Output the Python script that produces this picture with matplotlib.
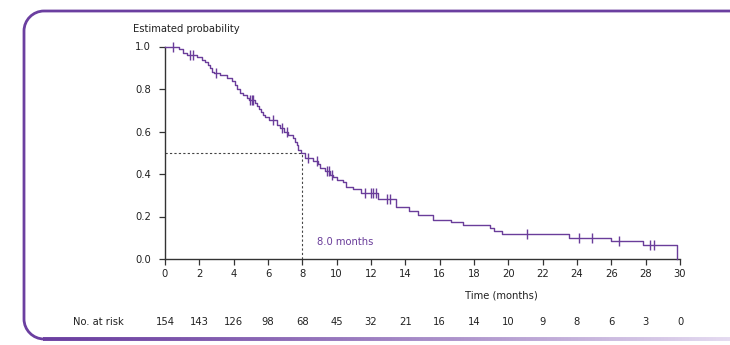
import matplotlib
matplotlib.use('Agg')
import matplotlib.pyplot as plt
import numpy as np
from matplotlib.path import Path
from matplotlib.patches import PathPatch
from matplotlib.collections import LineCollection
from matplotlib import font_manager

# ---------------- data ----------------
event_times = [0.0, 0.82, 1.07, 1.3, 1.85, 2.14, 2.33, 2.49, 2.62, 2.72, 2.85, 3.2, 3.59, 3.88,
               4.08, 4.17, 4.37, 4.56, 4.76, 4.9, 5.24, 5.34, 5.45, 5.6, 5.73, 5.82, 6.05,
               6.5, 6.7, 6.95, 7.18, 7.47, 7.6, 7.67, 7.76, 7.9, 8.15, 8.64, 8.9, 9.03, 9.32,
               9.6, 9.8, 10.0, 10.38, 10.54, 10.97, 11.4, 12.42, 13.45, 14.23, 14.75, 15.6,
               16.64, 17.34, 18.93, 19.16, 19.61, 23.55, 25.98, 27.86, 29.84]
survival = [1.0, 0.99, 0.97, 0.958, 0.949, 0.936, 0.925, 0.913, 0.897, 0.881, 0.874, 0.864,
            0.853, 0.839, 0.819, 0.799, 0.783, 0.772, 0.756, 0.748, 0.733, 0.722, 0.708,
            0.693, 0.678, 0.667, 0.655, 0.631, 0.615, 0.6, 0.584, 0.568, 0.55, 0.537, 0.513,
            0.497, 0.475, 0.459, 0.445, 0.428, 0.412, 0.396, 0.385, 0.373, 0.362, 0.338,
            0.328, 0.31, 0.281, 0.243, 0.227, 0.207, 0.185, 0.175, 0.16, 0.145, 0.131,
            0.116, 0.099, 0.086, 0.065, 0.0]
censor_times = [0.48, 1.46, 1.65, 2.95, 4.95, 5.05, 5.13, 6.27, 6.8, 7.09, 8.35, 8.83, 9.45,
                9.55, 9.7, 11.65, 11.98, 12.13, 12.3, 12.93, 13.1, 21.07, 24.13, 24.85,
                26.42, 28.24, 28.48]
risk_times = [0, 2, 4, 6, 8, 10, 12, 14, 16, 18, 20, 22, 24, 26, 28, 30]
at_risk = [154, 143, 126, 98, 68, 45, 32, 21, 16, 14, 10, 9, 8, 6, 3, 0]
x_ticks = [0, 2, 4, 6, 8, 10, 12, 14, 16, 18, 20, 22, 24, 26, 28, 30]
y_ticks = [0.0, 0.2, 0.4, 0.6, 0.8, 1.0]
median_time = 8.0
median_label = "8.0 months"

# ---------------- style ----------------
fonts = font_manager.fontManager.ttflist
if any(f.name == 'DejaVu Sans' and ('Condensed' in f.fname) for f in fonts):
    plt.rcParams['font.family'] = ['DejaVu Sans']
    plt.rcParams['font.stretch'] = 'condensed'
    FS = 8
else:
    plt.rcParams['font.family'] = ['Lato', 'DejaVu Sans']
    FS = 8

PURPLE = '#6a3d9a'
FRAME = '#6b3fa0'
AXC = '#333333'
TXT = '#222222'

W, H = 730, 345
fig = plt.figure(figsize=(7.3, 3.45), dpi=100)

# overlay for frame (pixel coords)
bg = fig.add_axes([0, 0, 1, 1])
bg.set_xlim(0, W)
bg.set_ylim(H, 0)
bg.axis('off')
r = 20
top_y, left_x, bot_y = 11, 24, 339
k = 0.55
verts = [(W + 5, top_y), (left_x + r, top_y),
         (left_x + r * (1 - k), top_y), (left_x, top_y + r * (1 - k)), (left_x, top_y + r),
         (left_x, bot_y - r),
         (left_x, bot_y - r * (1 - k)), (left_x + r * (1 - k), bot_y), (left_x + r, bot_y)]
codes = [Path.MOVETO, Path.LINETO, Path.CURVE4, Path.CURVE4, Path.CURVE4, Path.LINETO,
         Path.CURVE4, Path.CURVE4, Path.CURVE4]
bg.add_patch(PathPatch(Path(verts, codes), fill=False, lw=2.0, edgecolor=FRAME,
                       capstyle='butt', joinstyle='round'))
# bottom gradient band
xs = np.linspace(left_x + r - 1, W, 200)
segs = [[(xs[i], bot_y), (xs[i + 1], bot_y)] for i in range(len(xs) - 1)]
c0 = np.array(matplotlib.colors.to_rgb(FRAME))
c1 = np.array(matplotlib.colors.to_rgb('#e4daf0'))
fr = np.linspace(0, 1, len(segs))
cols = [tuple(c0 * (1 - f ** 1.2) + c1 * f ** 1.2) for f in fr]
bg.add_collection(LineCollection(segs, colors=cols, linewidths=2.8))

# main axes
ax = fig.add_axes([165 / W, 1 - 259 / H, (680 - 165) / W, (259 - 46.5) / H])
ax.set_xlim(0, 30)
ax.set_ylim(0, 1.0)

# KM curve
ax.step(event_times, survival, where='post', color=PURPLE, lw=1.0, clip_on=False, zorder=3)

# censor marks
et = np.array(event_times)
sv = np.array(survival)
idx = np.searchsorted(et, censor_times, side='right') - 1
ax.plot(censor_times, sv[idx], linestyle='none', marker='|', markersize=7,
        markeredgewidth=1.0, color=PURPLE, clip_on=False, zorder=4)

# median lines
ax.plot([0, median_time], [0.5, 0.5], color='#444444', lw=0.8, ls=(0, (2, 2)), zorder=2)
ax.plot([median_time, median_time], [0, 0.5], color='#444444', lw=0.8, ls=(0, (2, 2)), zorder=2)
ax.text(median_time + 0.85, 0.08, median_label, color=PURPLE, fontsize=FS, va='center', ha='left')

# spines / ticks
for s in ['top', 'right']:
    ax.spines[s].set_visible(False)
for s in ['left', 'bottom']:
    ax.spines[s].set_color(AXC)
    ax.spines[s].set_linewidth(1.0)
ax.set_xticks(x_ticks)
ax.set_yticks(y_ticks)
ax.set_yticklabels([f"{v:.1f}" for v in y_ticks])
ax.tick_params(axis='both', direction='out', length=4, width=0.9, color=AXC,
               labelsize=FS, labelcolor=TXT)
ax.tick_params(axis='y', pad=6)
ax.tick_params(axis='x', pad=3)

tr = ax.get_xaxis_transform()
ax.text(19.6, -(295 - 259) / 212.5, 'Time (months)', transform=tr, fontsize=FS, color=TXT,
        ha='center', va='center', clip_on=False)
fig.text(133 / W, 1 - 29 / H, 'Estimated probability', fontsize=FS, color=TXT,
         ha='left', va='center')

# number at risk
for t, n in zip(risk_times, at_risk):
    ax.text(t, -(322 - 259) / 212.5, str(n), transform=tr, ha='center', va='center', fontsize=FS,
            color=TXT, clip_on=False)
ax.text(-(165 - 73) / 17.17, -(322 - 259) / 212.5, 'No. at risk', transform=tr, fontsize=FS,
        color=TXT, ha='left', va='center', clip_on=False)

fig.savefig('out.png', dpi=100)
